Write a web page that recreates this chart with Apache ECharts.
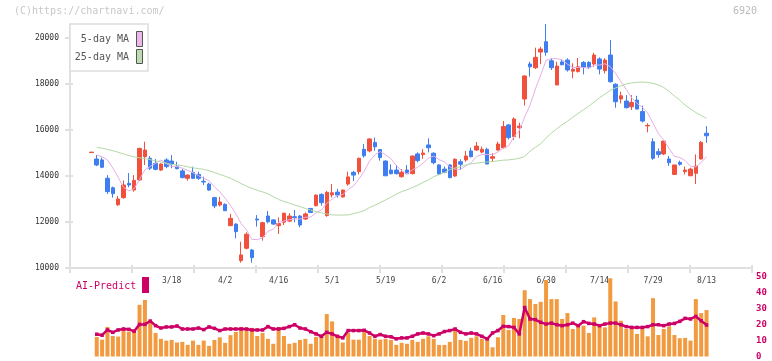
<!DOCTYPE html>
<html><head><meta charset="utf-8">
<script src="https://cdn.jsdelivr.net/npm/echarts@6/dist/echarts.min.js"></script>
<style>html,body{margin:0;padding:0;background:#fff}#c{width:772px;height:361px}</style>
</head><body><div id="c"></div>
<script>
// ---- data (trading-day index 0..115) ----
const opens=[15020,14740,14700,13900,13490,12750,13060,13680,13390,13830,14840,14770,14550,14260,14700,14650,14430,14220,13900,14160,14070,13770,13650,13060,12740,12770,11840,11910,10320,10860,10780,12130,11360,12260,12090,11840,11990,12040,12230,12260,12130,12590,12710,13200,12280,13180,13300,13090,13650,14160,14190,15160,15090,15460,15150,14650,14260,14260,13970,14260,14100,14960,14930,15350,14990,14480,14300,14480,14000,14620,14700,15090,15130,15040,15160,14770,15130,15230,16220,15710,16100,17350,18870,18710,19390,19840,19010,17960,18960,19040,18560,18540,18940,18940,18870,19090,18580,19260,17990,17350,17260,17010,17300,16800,16180,15490,15060,14960,14740,14070,14590,14190,14010,14120,14740,15860];
const closes=[15040,14480,14380,13320,13230,13000,13610,13610,13810,15200,15130,14340,14290,14520,14410,14520,14320,13930,14040,13900,13900,13740,13390,12700,12870,12490,12160,11580,10570,11470,10450,12090,11970,12010,11910,11930,12380,12260,12190,11870,12350,12410,13170,12840,13290,13270,13170,13390,13960,14040,14770,14880,15610,15270,14800,14010,14100,14100,14160,14100,14870,14670,15000,15230,14580,14090,14160,13930,14730,14510,14870,14840,15300,15160,14520,14840,15390,16150,15670,16480,16170,18350,18750,19160,19520,19380,18710,18780,18840,18610,18640,18750,18730,18730,19260,18650,19040,18100,17230,17490,16970,17200,16910,16390,16200,14770,14940,15520,14580,14480,14510,14260,14300,14430,15460,15750];
const lows=[15020,14430,14340,13220,13060,12700,13010,13510,13320,13780,14480,14260,14250,14220,14340,14340,14290,13900,13800,13870,13830,13610,13360,12600,12670,12480,11830,11290,10230,10810,10230,11800,11190,11940,11870,11480,11870,11990,11990,11770,12090,12400,12680,12710,12230,13070,13060,13060,13580,13780,14070,14800,15030,15100,14670,14000,14070,14070,13930,14090,14070,14590,14750,15030,14510,14040,14120,13900,13970,14260,14620,14810,15090,14990,14520,14620,15100,15200,15590,15570,15640,17060,18320,18650,18860,19230,18610,17950,18810,18540,18250,18500,18420,18650,18750,18420,18460,18060,16970,17160,16940,16870,16900,16330,15900,14700,14800,14910,14440,14040,14450,14070,14010,13650,14720,15450];
const highs=[15040,14910,14800,14040,13540,13130,13810,14130,14040,15230,15490,14870,14740,14550,14770,14910,14620,14300,14070,14410,14190,13970,13710,13100,13090,12810,12350,11940,11140,11550,10830,12300,12010,12480,12120,12200,12410,12380,12520,12300,12420,12600,13200,13250,13350,13650,13440,13410,14190,14220,14800,15390,15640,15670,15170,14680,14510,14480,14300,14480,14880,15030,15170,15640,15030,14520,14410,14510,14770,14730,15090,15230,15480,15280,15230,14990,15490,16390,16260,16550,16320,18380,18970,19580,19620,20610,19120,18970,19070,19120,18900,19130,19000,18990,19360,19160,19120,19910,18030,17670,17520,17520,17490,17060,16290,15640,15200,15520,14870,14480,14670,14410,14360,14940,15520,16170];
const ma5=[null,14910,14840,14700,14350,13950,13508,13354,13452,13846,14272,14418,14554,14696,14538,14416,14412,14340,14244,14142,14018,13902,13794,13526,13320,13038,12722,12360,11934,11654,11246,11232,11310,11598,11686,11982,12040,12098,12134,12126,12210,12216,12398,12528,12812,12996,13148,13192,13416,13566,13866,14208,14652,14914,15066,14914,14758,14456,14234,14094,14266,14380,14560,14774,14870,14714,14612,14398,14298,14284,14440,14576,14850,14936,14938,14932,15042,15212,15314,15706,15972,16564,17084,17782,18390,19032,19104,19110,19046,18864,18716,18724,18714,18692,18822,18824,18882,18756,18456,18102,17766,17398,17160,16992,16734,16294,15842,15564,15202,14858,14806,14670,14426,14396,14592,14840];
const ma25=[null,15246,15210,15160,15100,15030,14960,14890,14830,14790,14750,14710,14660,14610,14560,14510,14480,14450,14400,14360,14320,14290,14230,14150,14070,13990,13900,13790,13670,13560,13460,13380,13310,13230,13100,12980,12890,12820,12740,12670,12590,12520,12450,12400,12350,12310,12300,12300,12310,12360,12420,12500,12630,12730,12840,12960,13080,13210,13320,13400,13500,13600,13720,13830,13970,14060,14150,14280,14350,14410,14480,14530,14560,14590,14610,14630,14660,14690,14700,14730,14770,14850,15080,15250,15400,15650,15870,16050,16230,16380,16560,16720,16880,17040,17220,17400,17560,17720,17830,17920,18000,18050,18075,18085,18070,18030,17960,17850,17680,17480,17300,17080,16920,16760,16630,16510];
const volume=[null,12.3,10.6,18.6,12.9,12.5,18.0,15.6,15.6,32.5,35.6,22.3,14.8,11.1,10.0,10.4,8.8,9.2,7.3,10.0,7.3,10.0,6.7,10.4,12.1,8.6,13.4,15.4,18.6,17.1,18.0,12.9,14.8,11.1,8.0,18.6,12.9,8.0,8.6,10.4,11.1,8.0,12.3,13.6,26.7,22.1,12.9,8.8,14.8,10.6,10.6,15.6,12.9,11.1,10.6,11.1,10.4,7.3,8.6,8.0,10.4,9.2,11.1,12.7,11.1,7.3,7.3,9.2,16.3,10.4,9.8,11.7,12.7,11.1,11.7,5.8,12.1,26.1,16.7,24.2,23.6,41.7,36.1,33.0,34.4,48.1,36.1,36.1,23.6,27.3,17.3,20.4,19.4,14.8,24.6,19.4,18.3,49.2,34.6,22.5,17.3,18.3,14.2,17.9,12.7,36.7,13.5,17.3,19.0,13.5,11.5,11.7,10.0,36.1,27.3,29.2];
const aiPredict=[null,14.0,13.4,16.7,15.2,16.7,17.3,17.1,15.9,20.2,20.2,22.3,19.4,17.9,18.6,18.6,19.2,17.3,17.3,17.3,17.9,16.9,18.6,17.7,16.3,17.3,17.3,17.3,17.3,17.3,16.7,16.7,16.7,18.8,17.3,17.3,17.7,18.8,20.0,17.9,17.3,15.6,14.2,12.7,15.2,14.2,12.7,11.7,16.3,16.3,16.3,16.5,14.8,12.7,13.8,12.7,12.4,11.1,11.7,11.7,12.7,14.2,14.8,14.2,13.1,14.2,15.7,16.3,17.3,15.2,14.2,14.8,14.2,12.7,11.1,14.8,16.3,19.0,18.8,18.3,14.2,30.8,23.6,23.2,21.5,20.4,21.0,20.0,19.4,20.0,21.0,19.4,21.9,20.8,20.4,19.4,20.4,21.0,21.0,20.0,18.8,18.3,18.3,18.3,18.8,20.0,20.0,19.4,20.4,20.8,22.1,24.0,23.6,25.2,22.5,19.8];
const tickIdx=[15,25,35,45,55,65,75,85,95,105,115];
const tickLabels=['3/18','4/2','4/16','5/1','5/19','6/2','6/16','6/30','7/14','7/29','8/13'];
const priceTicks=[10000,12000,14000,16000,18000,20000];

// ---- chart ----
const RED='#f0503c', BLUE='#3f7ef0', MONO='DejaVu Sans Mono';
const X_MIN=-4, X_MAX=123.5, X_INT=(X_MAX-X_MIN)/11;
const AX='#e0e0e0';
const pairs=a=>a.map((v,i)=>[i,v]).filter(p=>p[1]!=null);
const chart=echarts.init(document.getElementById('c'));
chart.setOption({
  animation:false,
  backgroundColor:'#fff',
  grid:[{left:70,right:20,top:24,bottom:93},{left:70,right:20,top:277,bottom:3}],
  xAxis:[
    {type:'value',gridIndex:0,min:X_MIN,max:X_MAX,interval:X_INT,position:'bottom',
     axisLine:{show:true,onZero:false,lineStyle:{color:AX,width:2}},
     axisTick:{show:true,length:5,lineStyle:{color:AX,width:2}},
     splitLine:{show:false},
     axisLabel:{customValues:tickIdx,formatter:v=>tickLabels[tickIdx.indexOf(v)],fontFamily:MONO,fontSize:8,color:'#444',margin:9}},
    {type:'value',gridIndex:0,min:X_MIN,max:X_MAX,interval:X_INT,position:'bottom',offset:0,
     axisLine:{show:false,onZero:false},axisTick:{show:true,inside:true,length:3,lineStyle:{color:AX,width:2}},
     axisLabel:{show:false},splitLine:{show:false}},
    {type:'value',gridIndex:1,min:X_MIN,max:X_MAX,show:false}
  ],
  yAxis:[
    {type:'value',gridIndex:0,min:10000,max:20610,position:'left',
     axisLine:{show:true,onZero:false,lineStyle:{color:AX,width:2}},
     axisTick:{show:true,length:5,customValues:priceTicks,lineStyle:{color:AX,width:2}},
     axisLabel:{customValues:priceTicks,formatter:v=>String(v),fontFamily:MONO,fontSize:8,color:'#333',margin:11},
     splitLine:{show:false}},
    {type:'value',gridIndex:0,min:10000,max:20610,position:'left',offset:0,
     axisLine:{show:false,onZero:false},
     axisTick:{show:true,inside:true,length:3,customValues:priceTicks,lineStyle:{color:AX,width:2}},
     axisLabel:{show:false},splitLine:{show:false}},
    {type:'value',gridIndex:1,min:0,max:50,interval:10,position:'right',
     axisLine:{show:false,onZero:false},axisTick:{show:false},splitLine:{show:false},
     axisLabel:{color:'#cc0066',fontFamily:MONO,fontSize:9,fontWeight:'bold',margin:4}}
  ],
  series:[
    {type:'candlestick',xAxisIndex:0,yAxisIndex:0,barWidth:4,
     encode:{x:0,y:[1,2,3,4]},
     itemStyle:{color:RED,color0:BLUE,borderColor:RED,borderColor0:BLUE,borderWidth:1},
     data:opens.map((o,i)=>[i,o,closes[i],lows[i],highs[i]])},
    {type:'line',xAxisIndex:0,yAxisIndex:0,showSymbol:false,lineStyle:{color:'#e6b0e6',width:1},data:pairs(ma5),z:3},
    {type:'line',xAxisIndex:0,yAxisIndex:0,showSymbol:false,lineStyle:{color:'#b2d9a6',width:1},data:pairs(ma25),z:3},
    {type:'bar',xAxisIndex:2,yAxisIndex:2,barWidth:4,itemStyle:{color:'#f29a3f'},data:pairs(volume)},
    {type:'line',xAxisIndex:2,yAxisIndex:2,symbol:'rect',symbolSize:3.5,showSymbol:true,
     itemStyle:{color:'#cc0066'},lineStyle:{color:'#cc0066',width:2.5},data:pairs(aiPredict),z:4}
  ],
  graphic:[
    {type:'text',left:14,top:6,style:{text:'(C)https://chartnavi.com/',font:'10px "DejaVu Sans Mono"',fill:'#c8c8c8'}},
    {type:'text',right:15,top:6,style:{text:'6920',font:'10px "DejaVu Sans Mono"',fill:'#bbbbbb'}},
    {type:'rect',shape:{x:70,y:24,width:78,height:47},style:{fill:'#fff',stroke:'#dddddd',lineWidth:1.5},z:100},
    {type:'text',x:129,y:39,style:{text:'5-day MA',font:'10px "DejaVu Sans Mono"',fill:'#555',align:'right',verticalAlign:'middle'},z:101},
    {type:'text',x:129,y:57,style:{text:'25-day MA',font:'10px "DejaVu Sans Mono"',fill:'#555',align:'right',verticalAlign:'middle'},z:101},
    {type:'rect',shape:{x:136.5,y:31.5,width:6,height:15},style:{fill:'#ecb8ec',stroke:'#555',lineWidth:1},z:101},
    {type:'rect',shape:{x:136.5,y:49.5,width:6,height:14},style:{fill:'#bcdcb0',stroke:'#555',lineWidth:1},z:101},
    {type:'text',x:76,y:286,style:{text:'AI-Predict',font:'10px "DejaVu Sans Mono"',fill:'#cc0066',verticalAlign:'middle'},z:101},
    {type:'rect',shape:{x:142,y:277,width:7,height:16},style:{fill:'#cc0066'},z:101}
  ]
});
</script></body></html>
